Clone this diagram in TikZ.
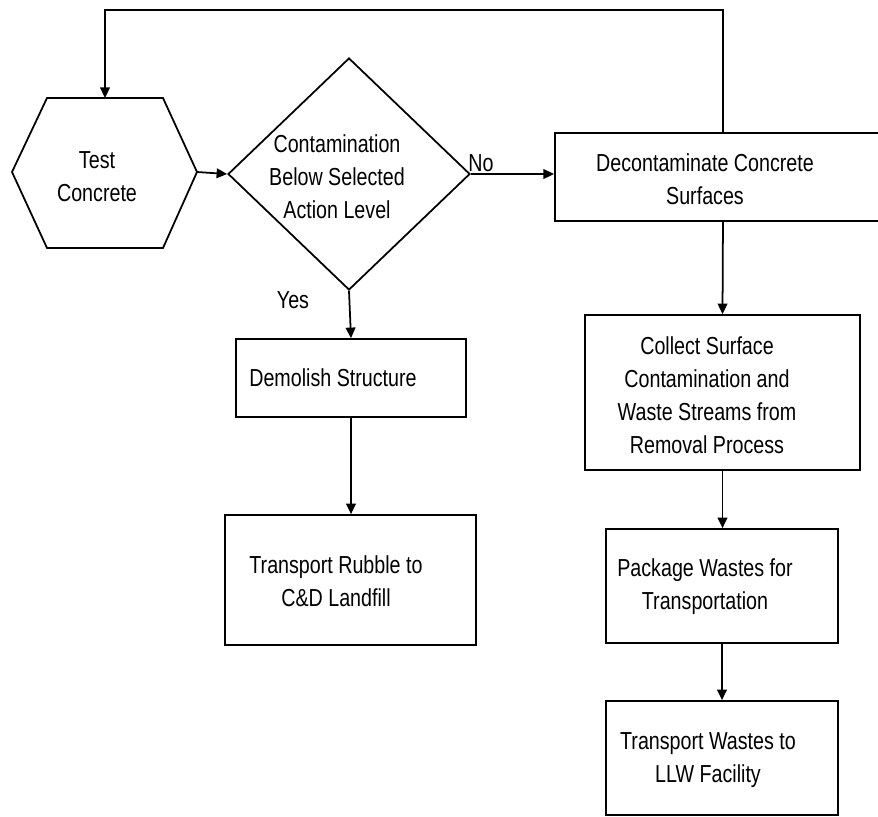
\documentclass[tikz,border=0pt]{standalone}
\usepackage{fontspec}
\setmainfont{Liberation Sans}[FakeStretch=0.8]
\usetikzlibrary{arrows.meta,shapes.geometric}

\tikzset{
  flowline/.style={line width=1pt, draw=black},
  flowarrow/.style={flowline, -{Triangle[length=6pt,width=5.5pt]}},
  procbox/.style={draw=black, line width=1pt, rectangle, inner sep=0pt},
  decision/.style={draw=black, line width=1pt, diamond, inner sep=0pt},
  txt/.style={align=center, inner sep=0pt, font=\fontsize{14}{18.7}\selectfont},
  tag/.style={inner sep=0pt, font=\fontsize{14}{18.7}\selectfont}
}

\begin{document}
\begin{tikzpicture}[x=0.02cm, y=-0.02cm]
  \useasboundingbox (0,0) rectangle (878,816);
  \clip (0,0) rectangle (878,816);

  % start: hexagon
  \coordinate (hexT) at (105,98);
  \coordinate (hexR) at (197,172);
  \draw[flowline] (47,98) -- (163,98) -- (hexR) -- (163,248) -- (47,248) -- (12,172) -- cycle;
  \node[txt] (test) at (97,177) {Test\\Concrete};

  % decision
  \node[decision, minimum width=4.84cm, minimum height=4.64cm] (dec) at (349,174) {};
  \node[txt] (dectext) at (337,177) {Contamination\\Below Selected\\Action Level};
  \node[tag] (no) at (481,163) {No};
  \node[tag] (yes) at (293,300) {Yes};

  % process boxes (the decontamination box runs past the right margin)
  \node[procbox, anchor=west, minimum width=9cm, minimum height=1.76cm] (decon) at (554,177) {};
  \node[txt] at (705,179) {Decontaminate Concrete\\Surfaces};

  \node[procbox, minimum width=5.5cm, minimum height=3.1cm] (collect) at (722.5,392.5) {};
  \node[txt] at (707,395) {Collect Surface\\Contamination and\\Waste Streams from\\Removal Process};

  \node[procbox, minimum width=4.64cm, minimum height=2.28cm] (package) at (722,586) {};
  \node[txt] at (705,587) {Package Wastes for\\Transportation};

  \node[procbox, minimum width=4.64cm, minimum height=2.28cm] (llw) at (722,758) {};
  \node[txt] at (708,760) {Transport Wastes to\\LLW Facility};

  \node[procbox, minimum width=4.6cm, minimum height=1.56cm] (demolish) at (351,378) {};
  \node[txt] at (333,378) {Demolish Structure};

  \node[procbox, minimum width=5.02cm, minimum height=2.6cm] (rubble) at (350.5,580) {};
  \node[txt] at (336,581) {Transport Rubble to\\C\&D Landfill};

  % connectors
  \draw[flowarrow] (hexR) -- (dec.west);
  \draw[flowarrow] (dec.east) -- (dec.east -| decon.west);
  \draw[flowarrow] (dec.south) -- (demolish.north);
  \draw[flowarrow] (demolish.south) -- (demolish.south |- rubble.north);
  \draw[flowarrow] ([xshift=3.38cm]decon.south west) -- (collect.north);
  \draw[flowarrow] (collect.south) -- (collect.south |- package.north);
  \draw[flowarrow] (package.south) -- (llw.north);
  \draw[flowarrow] ([xshift=3.38cm]decon.north west) |- (hexT |- 0,10) -- (hexT);
\end{tikzpicture}
\end{document}
